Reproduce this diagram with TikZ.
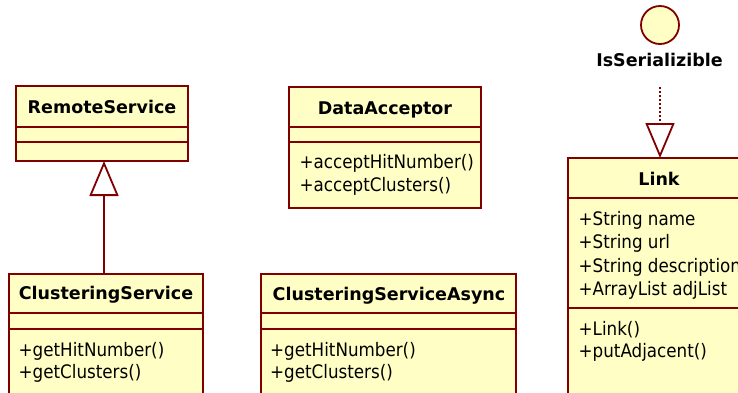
\documentclass[tikz,border=0pt]{standalone}
\usepackage{fontspec}
\setmainfont{DejaVu Sans}
\newfontfamily\memberfont{DejaVu Sans Condensed}
\usetikzlibrary{arrows.meta,calc}

\definecolor{umlred}{RGB}{128,0,0}
\definecolor{umlfill}{RGB}{255,255,197}

\tikzset{
  umlbox/.style={draw=umlred, fill=umlfill, line width=1.8pt, anchor=north west,
    inner sep=0pt, outer sep=0pt},
  compart/.style={draw=umlred, line width=1.8pt},
  cname/.style={font=\bfseries\fontsize{17.5}{21}\selectfont, inner sep=0pt, anchor=base},
  member/.style={font=\memberfont\fontsize{18.6}{22}\selectfont, inner sep=0pt, anchor=base west},
  iface/.style={circle, draw=umlred, fill=umlfill, line width=1.8pt, minimum size=38pt,
    inner sep=0pt, outer sep=0pt},
  gen/.style={draw=umlred, line width=1.8pt,
    -{Triangle[open, length=35pt, width=29pt, line width=1.8pt]}},
  realize/.style={draw=umlred, line width=1.6pt, dash pattern=on 2pt off 2pt,
    -{Triangle[open, length=35pt, width=29pt, line width=1.8pt]}}
}

\begin{document}
\begin{tikzpicture}[x=1pt,y=-1pt]
\useasboundingbox (0,0) rectangle (738,392);
\clip (0,0) rectangle (738,392);

% RemoteService
\node[umlbox, minimum width=172pt, minimum height=75pt] (rs) at (16,86) {};
\draw[compart] (16,127) -- (188,127);
\draw[compart] (16,142) -- (188,142);
\node[cname] (rsname) at (102,113) {RemoteService};

% DataAcceptor
\node[umlbox, minimum width=192pt, minimum height=121pt] (da) at (289,87) {};
\draw[compart] (289,127) -- (481,127);
\draw[compart] (289,142) -- (481,142);
\node[cname] (daname) at (385,114) {DataAcceptor};
\node[member] (da1) at (299.5,168) {+acceptHitNumber()};
\node[member] (da2) at (299.5,191) {+acceptClusters()};

% ClusteringService
\node[umlbox, minimum width=194pt, minimum height=126pt] (cs) at (9,274) {};
\draw[compart] (9,313) -- (203,313);
\draw[compart] (9,329) -- (203,329);
\node[cname] (csname) at (106,299) {ClusteringService};
\node[member] (cs1) at (18.5,356) {+getHitNumber()};
\node[member] (cs2) at (18.5,378) {+getClusters()};

% ClusteringServiceAsync
\node[umlbox, minimum width=255pt, minimum height=126pt] (csa) at (261,274) {};
\draw[compart] (261,313) -- (516,313);
\draw[compart] (261,329) -- (516,329);
\node[cname] (csaname) at (389,300) {ClusteringServiceAsync};
\node[member] (csa1) at (270,356) {+getHitNumber()};
\node[member] (csa2) at (270,378) {+getClusters()};

% Link
\node[umlbox, minimum width=182pt, minimum height=242pt] (link) at (568,158) {};
\draw[compart] (568,198) -- (750,198);
\draw[compart] (568,308) -- (750,308);
\node[cname] (linkname) at (659,185) {Link};
\node[member] (la1) at (578.5,225) {+String name};
\node[member] (la2) at (578.5,248) {+String url};
\node[member] (la3) at (578.5,272) {+String description};
\node[member] (la4) at (578.5,295) {+ArrayList adjList};
\node[member] (lm1) at (578.5,335) {+Link()};
\node[member] (lm2) at (578.5,357) {+putAdjacent()};

% IsSerializible interface
\node[iface] (ser) at (660,25) {};
\node[cname] (sername) at (659.5,66) {IsSerializible};

% generalization and realization
\coordinate (genx) at (104,0);
\draw[gen] (cs.north -| genx) -- (rs.south -| genx);
\coordinate (realtop) at ($(sername.base)+(0.5,21)$);
\draw[realize] (realtop) -- (realtop |- link.north);
\end{tikzpicture}
\end{document}
